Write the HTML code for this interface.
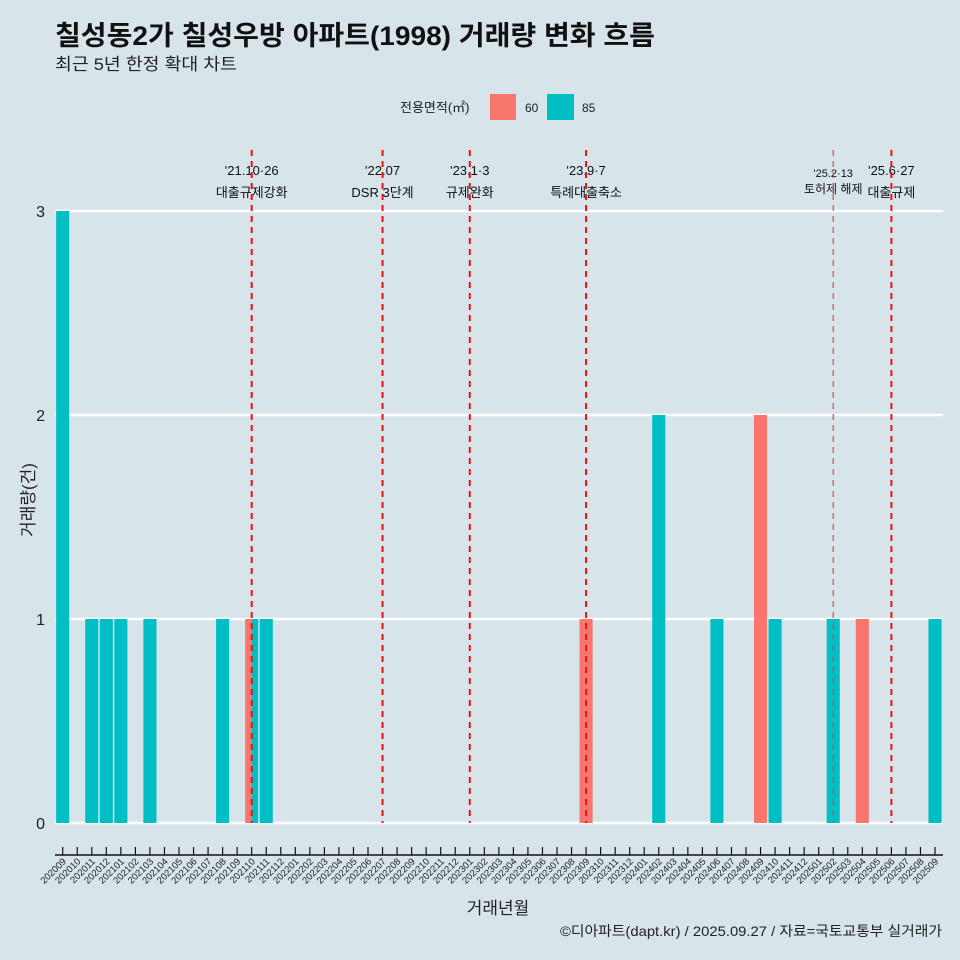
<!DOCTYPE html>
<html><head><meta charset="utf-8"><style>
body{margin:0;background:#d7e4ea;}
svg{display:block;font-family:"Liberation Sans","Noto Sans CJK KR",sans-serif;}
</style></head><body>
<svg id="c" width="960" height="960" viewBox="0 0 960 960">
<rect width="960" height="960" fill="#d7e4ea"/>
<text x="55" y="45" font-size="27" font-weight="bold" fill="#111" textLength="600" lengthAdjust="spacingAndGlyphs">칠성동2가 칠성우방 아파트(1998) 거래량 변화 흐름</text>
<text x="55" y="70" font-size="17" fill="#222" textLength="182" lengthAdjust="spacingAndGlyphs">최근 5년 한정 확대 차트</text>
<g>
<text x="400" y="112" font-size="13" fill="#222">전용면적(㎡)</text>
<rect x="490" y="94" width="26" height="26" fill="#f8766d"/>
<text x="525" y="112" font-size="12" fill="#222">60</text>
<rect x="547" y="94" width="27" height="26" fill="#00bfc4"/>
<text x="582" y="112" font-size="12" fill="#222">85</text>
</g>
<g id="grid"></g><g id="bars"></g><g id="events"></g><g id="axis"></g>
<text x="498" y="914" font-size="17" text-anchor="middle" fill="#222">거래년월</text>
<text transform="translate(34,500) rotate(-90)" font-size="17" text-anchor="middle" fill="#222">거래량(건)</text>
<text x="942" y="936" font-size="14" text-anchor="end" fill="#222" textLength="382" lengthAdjust="spacingAndGlyphs">©디아파트(dapt.kr) / 2025.09.27 / 자료=국토교통부 실거래가</text>
</svg>
<script>
const months=[];for(let y=2020,m=9;!(y===2025&&m>9);){months.push(''+y+(m<10?'0':'')+m);m++;if(m>12){m=1;y++;}}
const s60Months=['202110','202309','202409','202504'];
const s60Values=[1,1,2,1];
const s85Months=['202009','202011','202012','202101','202103','202108','202110','202111','202402','202406','202410','202502','202509'];
const s85Values=[3,1,1,1,1,1,1,1,2,1,1,1,1];
const yTicks=[0,1,2,3];
const evMonths=['202110','202207','202301','202309','202502','202506'];
const evDates=["'21.10·26","'22.07","'23.1·3","'23.9·7","'25.2·13","'25.6·27"];
const evNames=["대출규제강화","DSR 3단계","규제완화","특례대출축소","토허제 해제","대출규제"];
const NS='http://www.w3.org/2000/svg';
const x0=62.7,step=(935-62.7)/60;
const X=i=>x0+i*step;const Y=v=>823-v*204;
function mk(t,a,p){const e=document.createElementNS(NS,t);for(const k in a)e.setAttribute(k,a[k]);p.appendChild(e);return e;}
const grid=document.getElementById('grid');
yTicks.forEach(v=>{const l=mk('line',{x1:55,x2:943,y1:Y(v),y2:Y(v),stroke:'#fff','stroke-width':2.5},grid);


const t=mk('text',{x:45,y:Y(v)+6,'font-size':16,'text-anchor':'end',fill:'#222'},grid);t.textContent=v;

});
const bars=document.getElementById('bars');const bw=step*0.9;
function drawBar(mo,v,col,off,w){const i=months.indexOf(mo);const r=mk('rect',{x:X(i)-bw/2+off,y:Y(v),width:w,height:Y(0)-Y(v),fill:col},bars);

}
s60Months.forEach((m,k)=>{const both=s85Months.includes(m);drawBar(m,s60Values[k],'#f8766d',0,both?bw/2:bw);});
s85Months.forEach((m,k)=>{const both=s60Months.includes(m);drawBar(m,s85Values[k],'#00bfc4',both?bw/2:0,both?bw/2:bw);});
const ev=document.getElementById('events');
evMonths.forEach((m,k)=>{const x=X(months.indexOf(m));const thin=m==='202502';
const t1=mk('text',{x:x,y:thin?177:175,'font-size':thin?11:13,'text-anchor':'middle',fill:'#111'},ev);t1.textContent=evDates[k];


const t2=mk('text',{x:x,y:thin?193:197,'font-size':thin?12:13,'text-anchor':'middle',fill:'#111'},ev);t2.textContent=evNames[k];


const l=mk('line',{x1:x,x2:x,y1:150,y2:823,stroke:thin?'#e8443a':'#ee1111','stroke-width':thin?1.2:2,'stroke-dasharray':'6,5'},ev);

});
const ax=document.getElementById('axis');
const al=mk('line',{x1:55,x2:943,y1:855,y2:855,stroke:'#111','stroke-width':1.5},ax);


months.forEach((m,i)=>{const x=X(i);mk('line',{x1:x,x2:x,y1:847,y2:855,stroke:'#111','stroke-width':1.2},ax);
const t=mk('text',{transform:`translate(${x+4},862) rotate(-45)`,'font-size':9.5,'text-anchor':'end',fill:'#222'},ax);t.textContent=m;

});
</script>
</body></html>
